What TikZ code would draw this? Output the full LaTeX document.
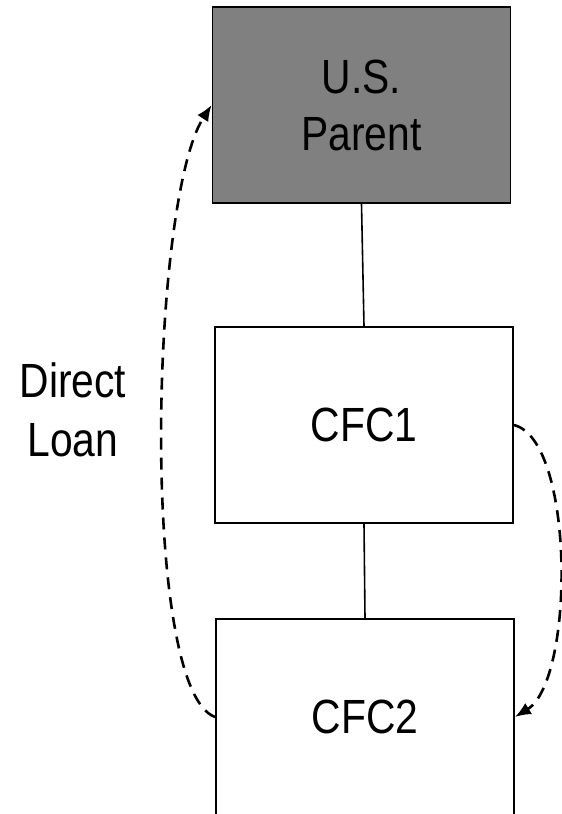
\documentclass[tikz,border=0pt]{standalone}
\usepackage{fontspec}
\setmainfont{Liberation Sans}[FakeStretch=0.85]
\usetikzlibrary{arrows.meta}
\tikzset{
    entity/.style={minimum width=298pt, minimum height=196pt, draw, line width=1.8pt, align=center, font=\fontsize{48}{57}\selectfont},
    loanpath/.style={line width=2.6pt, dash pattern=on 12pt off 8pt, -{Latex[length=16pt,width=13pt]}}
}
\begin{document}
\begin{tikzpicture}[x=1pt,y=-1pt]
                    \useasboundingbox (0,0) rectangle (562,814);

                    \node (parent) at (361.5,105) [entity, fill=gray] {U.S.\\Parent};

                    \node (cfc1) at (364,425) [entity] {CFC1};

                    \node (cfc2) at (365,717) [entity] {CFC2};

                    \path [line width=1.6pt]
                        (parent.south) edge (cfc1.north)
                        (cfc1.south) edge (cfc2.north)
                    ;

                    \draw [loanpath] (cfc2.west) .. controls (140,690) and (150,200) .. (parent.west);
                    \draw [loanpath] (cfc1.east) .. controls (575,440) and (575,680) .. (cfc2.east);

                    \node (loan) at (73,410) [align=center, font=\fontsize{48}{59}\selectfont] {Direct\\Loan};
                \end{tikzpicture}
\end{document}
